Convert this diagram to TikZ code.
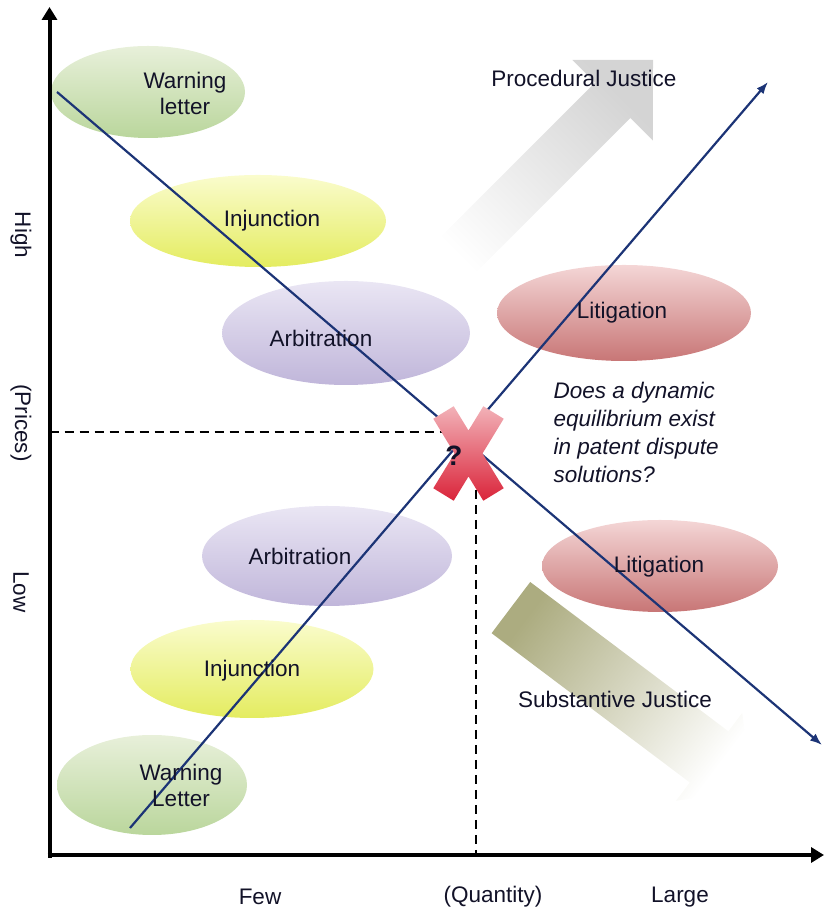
\documentclass[tikz,border=0pt]{standalone}
\usepackage{fontspec}
\setmainfont{Liberation Sans}
\usetikzlibrary{arrows.meta,shapes.geometric}
\definecolor{grTop}{RGB}{232,240,218}
\definecolor{grBot}{RGB}{186,214,156}
\definecolor{yeTop}{RGB}{250,252,205}
\definecolor{yeBot}{RGB}{228,236,96}
\definecolor{lvTop}{RGB}{234,230,244}
\definecolor{lvBot}{RGB}{192,182,218}
\definecolor{rdTop}{RGB}{244,214,214}
\definecolor{rdBot}{RGB}{200,118,118}
\definecolor{navy}{RGB}{28,52,118}
\definecolor{txt}{RGB}{18,18,40}
\definecolor{olv}{RGB}{172,172,128}
\definecolor{olvMid}{RGB}{214,214,188}
\definecolor{gryHead}{RGB}{212,212,212}
\definecolor{gryMid}{RGB}{232,232,232}
\definecolor{xTop}{RGB}{242,178,184}
\definecolor{xBot}{RGB}{218,36,58}

\begin{document}
\begin{tikzpicture}[x=1pt,y=1pt,
    lbl/.style={font=\fontsize{22.5}{26}\selectfont,text=txt,align=center},
    blob/.style={ellipse,inner sep=0pt},
    greenblob/.style={blob,top color=grTop,bottom color=grBot},
    yellowblob/.style={blob,top color=yeTop,bottom color=yeBot},
    violetblob/.style={blob,top color=lvTop,bottom color=lvBot},
    redblob/.style={blob,top color=rdTop,bottom color=rdBot},
    trend/.style={draw=navy,line width=2.2pt,-{Latex[length=12pt,width=9pt]}},
    axisline/.style={line width=4pt,-{Triangle[length=13pt,width=15pt]}},
    guide/.style={line width=2.6pt,dash pattern=on 9pt off 6pt}]
  \useasboundingbox (0,0) rectangle (824,912);

  % broad justice arrows
  \shade[top color=gryHead,middle color=gryMid,bottom color=white,shading angle=-45]
    (423.3,657.7) -- (595,829.4) -- (572.4,852) -- (653,852) -- (652.9,771.4)
    -- (630.4,794) -- (458.7,622.3) -- cycle;
  \shade[top color=olv,middle color=olvMid,bottom color=white,shading angle=53]
    (530.2,330) -- (728.4,180.7) -- (742.2,199.1) -- (753,122) -- (676,111.2)
    -- (689.8,129.5) -- (491.6,278.8) -- cycle;

  % dispute solutions
  \node[greenblob,minimum width=194pt,minimum height=92pt] (wlHigh) at (148,820) {};
  \node[yellowblob,minimum width=256pt,minimum height=92pt] (injHigh) at (258,691) {};
  \node[violetblob,minimum width=248pt,minimum height=104pt] (arbHigh) at (346,579) {};
  \node[redblob,minimum width=254pt,minimum height=96pt] (litHigh) at (624,599) {};
  \node[violetblob,minimum width=250pt,minimum height=100pt] (arbLow) at (327,356) {};
  \node[redblob,minimum width=236pt,minimum height=92pt] (litLow) at (660,346) {};
  \node[yellowblob,minimum width=243pt,minimum height=98pt] (injLow) at (252,243) {};
  \node[greenblob,minimum width=190pt,minimum height=100pt] (wlLow) at (152,127) {};

  % axes
  \coordinate (O) at (49.5,57);
  \coordinate (yTop) at (49.5,905);
  \coordinate (xEnd) at (824,57);
  \draw[axisline] ([yshift=-3pt]O) -- (yTop);
  \draw[axisline] ([xshift=-2pt]O) -- (xEnd);

  % demand and supply lines
  \coordinate (dStart) at (57,820);
  \coordinate (dEnd) at (822,167);
  \coordinate (sStart) at (130,84);
  \coordinate (sEnd) at (768,830);
  \draw[trend] (dStart) -- (dEnd);
  \draw[trend] (sStart) -- (sEnd);

  % equilibrium guides
  \coordinate (pTick) at (49.5,480);
  \coordinate (pEnd) at (442,480);
  \coordinate (qTop) at (476,422);
  \coordinate (qTick) at (476,57);
  \draw[guide] (pTick) -- (pEnd);
  \draw[guide] (qTop) -- (qTick);

  % the cross
  \shade[top color=xTop,bottom color=xBot]
    (433.3,493.25) -- (453.7,505.75) -- (503.7,423.75) -- (483.3,411.25) -- cycle
    (483.3,505.75) -- (503.7,493.25) -- (453.7,411.25) -- (433.3,423.75) -- cycle;
  \node[font=\fontsize{28}{28}\selectfont\bfseries,text=txt] (qmark) at (454,456) {?};

  % labels
  \node[lbl] (wlHighT) at (185,819) {Warning\\letter};
  \node[lbl] (injHighT) at (272,691) {Injunction};
  \node[lbl] (arbHighT) at (321,574) {Arbitration};
  \node[lbl] (litHighT) at (622,599) {Litigation};
  \node[lbl] (arbLowT) at (300,356) {Arbitration};
  \node[lbl] (litLowT) at (659,345) {Litigation};
  \node[lbl] (injLowT) at (252,241) {Injunction};
  \node[lbl] (wlLowT) at (181,127) {Warning\\Letter};
  \node[lbl] (procT) at (584,834) {Procedural Justice};
  \node[lbl] (substT) at (615,213) {Substantive Justice};
  \node[lbl,align=left,anchor=west,font=\fontsize{22.5}{28}\selectfont\itshape]
    (askT) at (550,480) {Does a dynamic\\equilibrium exist\\in patent dispute\\solutions?};
  \node[lbl] (fewT) at (260,15) {Few};
  \node[lbl] (qtyT) at (493,15) {(Quantity)};
  \node[lbl] (largeT) at (680,15) {Large};
  \node[lbl,rotate=-90] (highT) at (21,677) {High};
  \node[lbl,rotate=-90] (priceT) at (21,489) {(Prices)};
  \node[lbl,rotate=-90] (lowT) at (21,320) {Low};
\end{tikzpicture}
\end{document}
